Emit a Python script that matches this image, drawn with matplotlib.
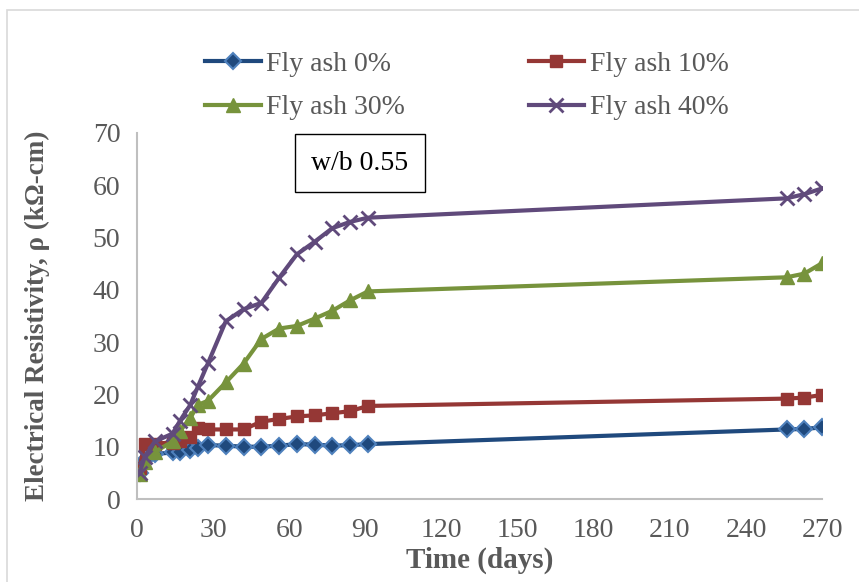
import matplotlib
matplotlib.use("Agg")
import matplotlib.pyplot as plt
from matplotlib.patches import Rectangle

# -----------------------
# Data
# -----------------------
days = [1, 3, 7, 14, 17, 21, 24, 28, 35, 42, 49, 56, 63, 70, 77, 84, 91, 256, 263, 270]

fa0 = [5.0, 7.5, 8.6, 8.9, 9.0, 9.3, 9.8, 10.3, 10.2, 10.0, 10.0, 10.2, 10.5, 10.4,
       10.2, 10.3, 10.5, 13.3, 13.4, 13.7]
fa10 = [6.0, 10.5, 10.6, 10.8, 11.0, 11.8, 13.5, 13.3, 13.3, 13.3, 14.8, 15.3, 15.8,
        16.0, 16.4, 16.8, 17.8, 19.2, 19.4, 19.9]
fa30 = [4.8, 7.0, 9.0, 11.0, 13.0, 15.5, 18.0, 18.8, 22.3, 25.9, 30.6, 32.6, 33.1,
        34.5, 36.0, 38.0, 39.7, 42.4, 43.1, 45.1]
fa40 = [5.0, 8.0, 11.0, 12.5, 15.0, 18.0, 21.5, 26.0, 34.0, 36.3, 37.5, 42.3, 46.8,
        49.2, 51.8, 53.0, 53.8, 57.5, 58.3, 59.4]

labels = ["Fly ash 0%", "Fly ash 10%", "Fly ash 30%", "Fly ash 40%"]
xticks = [0, 30, 60, 90, 120, 150, 180, 210, 240, 270]
yticks = [0, 10, 20, 30, 40, 50, 60, 70]

plt.rcParams["font.family"] = ["Liberation Serif", "DejaVu Serif"]
grey = "#595959"

# -----------------------
# Figure
# -----------------------
fig = plt.figure(figsize=(8.59, 5.82), dpi=100)
ax = fig.add_axes([0.1595, 0.1426, 0.7975, 0.6289])

# light chart-area border (cropped on right/bottom)
fig.patches.append(Rectangle((7 / 859, -0.1), 2, 1 - 10 / 582 + 0.1,
                             transform=fig.transFigure, fill=False,
                             ec="#d9d9d9", lw=1.2))

l0, = ax.plot(days, fa0, color="#1f497d", lw=3, marker="D", ms=8,
              mfc="#1f497d", mec="#4f81bd", mew=1.5, label=labels[0])
l1, = ax.plot(days, fa10, color="#953735", lw=3, marker="s", ms=9,
              mfc="#953735", mec="#953735", label=labels[1])
l2, = ax.plot(days, fa30, color="#77933c", lw=3, marker="^", ms=10,
              mfc="#77933c", mec="#77933c", label=labels[2])
l3, = ax.plot(days, fa40, color="#604a7b", lw=3, marker="x", ms=10,
              mew=2, label=labels[3])

ax.set_xlim(0, 270)
ax.set_ylim(0, 70)
ax.set_xticks(xticks)
ax.set_yticks(yticks)
ax.tick_params(length=0, labelsize=20, colors=grey)
ax.tick_params(axis="x", pad=14)
ax.tick_params(axis="y", pad=12)

for s in ["top", "right"]:
    ax.spines[s].set_visible(False)
for s in ["left", "bottom"]:
    ax.spines[s].set_color("#bfbfbf")
    ax.spines[s].set_linewidth(1.5)

ax.set_xlabel("Time (days)", fontsize=21, fontweight="bold", color=grey, labelpad=2)
ax.set_ylabel("Electrical Resistivity, \u03c1 (k\u03a9-cm)", fontsize=19.5,
              fontweight="bold", color=grey, labelpad=31)

# row-major order like the Excel legend
handles = [l0, l2, l1, l3]
ax.legend(handles, [h.get_label() for h in handles], ncol=2, loc="upper left",
          bbox_to_anchor=(0.2387, 0.912), bbox_transform=fig.transFigure,
          frameon=False, fontsize=20, labelcolor=grey, handlelength=2.0,
          handletextpad=0.2, columnspacing=4.45, labelspacing=0.66,
          borderpad=0, borderaxespad=0)

fig.text(360 / 859, 1 - 163 / 582, "w/b 0.55", fontsize=20, color="black",
         ha="center", va="center",
         bbox=dict(boxstyle="square,pad=0.6", fc="white", ec="black", lw=1))

fig.savefig("out.png", dpi=100)
